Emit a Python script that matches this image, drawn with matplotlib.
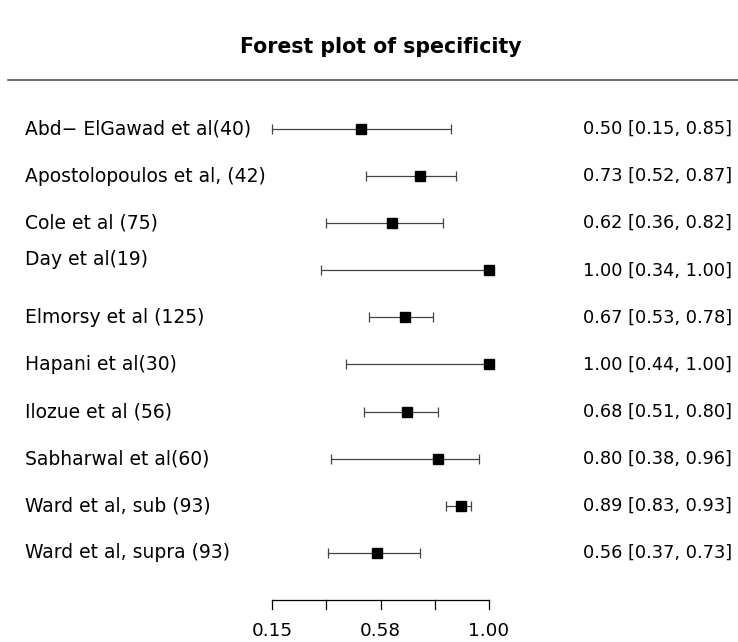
import numpy as np
import matplotlib.pyplot as plt

plt.rcParams['font.family'] = ['DejaVu Sans']

# study labels and specificity estimates with 95% CI
studies = [
    "Abd\u2212 ElGawad et al(40)",
    "Apostolopoulos et al, (42)",
    "Cole et al (75)",
    "Day et al(19)\n",
    "Elmorsy et al (125)",
    "Hapani et al(30)",
    "Ilozue et al (56)",
    "Sabharwal et al(60)",
    "Ward et al, sub (93)",
    "Ward et al, supra (93)",
]
est = [0.50, 0.73, 0.62, 1.00, 0.67, 1.00, 0.68, 0.80, 0.89, 0.56]
lower = [0.15, 0.52, 0.36, 0.34, 0.53, 0.44, 0.51, 0.38, 0.83, 0.37]
upper = [0.85, 0.87, 0.82, 1.00, 0.78, 1.00, 0.80, 0.96, 0.93, 0.73]
ticks = np.linspace(0.15, 1.00, 5)
tick_labels = ["0.15", "", "0.58", "", "1.00"]

fig = plt.figure(figsize=(7.38, 6.42), dpi=100)
ax = fig.add_axes([0, 0, 1, 1])
ax.set_xlim(-0.9154, 1.9753)
ax.set_ylim(-0.892, 12.739)
ax.axis("off")

n = len(studies)
ypos = np.arange(n, 0, -1)

ax.errorbar(est, ypos, xerr=[np.array(est) - np.array(lower), np.array(upper) - np.array(est)],
            fmt="none", ecolor="#444444", elinewidth=0.9, capsize=3.4, capthick=0.9)
ax.plot(est, ypos, "s", color="black", markersize=7.2, zorder=3)

lab_x = -0.9154 + 25 / 255.3
ci_x = -0.9154 + 583 / 255.3
for y, s, e, lo, hi in zip(ypos, studies, est, lower, upper):
    ax.text(lab_x, y, s, ha="left", va="center", fontsize=13.5)
    ax.text(ci_x, y, f"{e:.2f} [{lo:.2f}, {hi:.2f}]", ha="left", va="center", fontsize=12.8)

# header line
ax.plot([-0.9154 + 8 / 255.3, 1.9753], [11.04, 11.04], color="#444444", lw=1.1)

# bottom axis
ax.plot([ticks[0], ticks[-1]], [0, 0], color="black", lw=0.9)
for t, tl in zip(ticks, tick_labels):
    ax.plot([t, t], [0, -0.19], color="black", lw=0.9)
    if tl:
        ax.text(t, -0.66, tl, ha="center", va="center", fontsize=13.2)

ax.text((ticks[0] + ticks[-1]) / 2, 11.74, "Forest plot of specificity",
        ha="center", va="center", fontsize=14.8, fontweight="bold")

fig.savefig("out.png", dpi=100)
